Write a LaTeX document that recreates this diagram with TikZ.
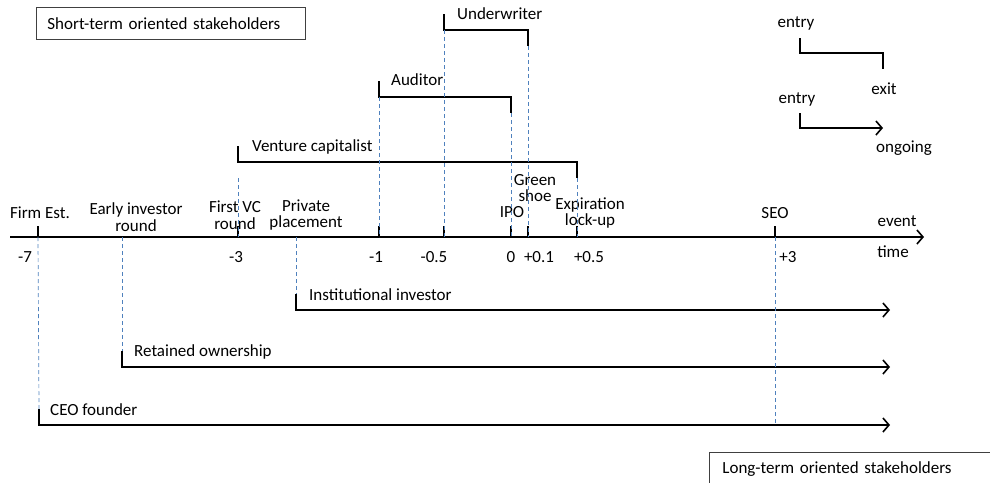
\documentclass[tikz,border=0pt]{standalone}
\usepackage{fontspec}
\setmainfont{Carlito}
\usetikzlibrary{arrows.meta}
\definecolor{guideblue}{RGB}{79,129,189}
\begin{document}
\begin{tikzpicture}[x=1pt, y=-1pt,
		every node/.style={inner sep=0pt, align=center, font=\fontsize{17}{16.5}\selectfont},
		stage/.style={line width=1.6pt},
		ongo/.style={line width=1.6pt, -{Straight Barb[length=6pt, width=14pt, line width=1.6pt]}},
		guide/.style={guideblue, line width=0.7pt, dash pattern=on 4pt off 3pt},
		tickmark/.style={line width=1.4pt},
		groupbox/.style={draw=black!75, line width=0.8pt, anchor=north west, inner xsep=11pt, align=left, minimum height=32pt}]
	\useasboundingbox (0,0) rectangle (990,482);

	\node[groupbox, text width=247pt] (shortbox) at (36,7) {Short-term oriented stakeholders};
	\node[groupbox, text width=268pt, inner xsep=13pt, minimum height=34pt] (longbox) at (709,452) {Long-term oriented stakeholders};

	\foreach \n/\x in {firm/38, early/122, fvc/238, priv/296, aud/379, uw/444, ipo/511, shoe/528, lock/577, seo/775}
		\coordinate (\n) at (\x,237);
	\coordinate (tstart) at (10,237);
	\coordinate (tend) at (924,237);
	\draw[ongo] (tstart) -- (tend);
	\foreach \n in {firm, fvc, aud, uw, ipo, shoe, lock, seo}
		\draw[tickmark] (\n) -- ++(0,-11);

	\node (firmlbl) at (40,213) {Firm Est.};
	\node (earlylbl) at (136,217) {Early investor\\round};
	\node (fvclbl) at (235,215) {First VC\\round};
	\node (privlbl) at (306,215) {Private\\placement};
	\node (ipolbl) at (512,212) {IPO};
	\node (shoelbl) at (535,188) {Green\\shoe};
	\node (locklbl) at (590,213) {Expiration\\lock-up};
	\node (seolbl) at (775,213) {SEO};
	\node (eventlbl) at (897,221) {event};
	\node (timelbl) at (893,252) {time};

	\node (n7) at (25,257) {-7};
	\node (n3) at (236,257) {-3};
	\node (n1) at (376,257) {-1};
	\node (n05) at (434,257) {-0.5};
	\node (n0) at (511,257) {0};
	\node (p01) at (539,257) {+0.1};
	\node (p05) at (589,257) {+0.5};
	\node (p3) at (788,257) {+3};

	\coordinate (vc-in) at (238,162);
	\coordinate (vc-out) at (577,162);
	\coordinate (aud-in) at (379,97);
	\coordinate (aud-out) at (511,97);
	\coordinate (uw-in) at (444,30);
	\coordinate (uw-out) at (528,30);
	\draw[stage] ([yshift=16pt]vc-in) -- (vc-in) -- (vc-out) -- ([yshift=-16pt]vc-out);
	\draw[stage] ([yshift=16pt]aud-in) -- (aud-in) -- (aud-out) -- ([yshift=-16pt]aud-out);
	\draw[stage] ([yshift=16pt]uw-in) -- (uw-in) -- (uw-out) -- ([yshift=-16pt]uw-out);
	\node[anchor=west] (vclbl) at (252,147) {Venture capitalist};
	\node[anchor=west] (audlbl) at (391,80) {Auditor};
	\node[anchor=west] (uwlbl) at (457,14) {Underwriter};
	\draw[guide] ([yshift=-16pt]vc-in) -- (fvc);
	\draw[guide] ([yshift=-16pt]vc-out) -- (lock);
	\draw[guide] (aud-in) -- (aud);
	\draw[guide] ([yshift=-16pt]aud-out) -- (ipo);
	\draw[guide] (uw-in) -- (uw);
	\draw[guide] ([yshift=-16pt]uw-out) -- (shoe);

	\coordinate (inst-in) at (296,310);
	\coordinate (inst-out) at (890,310);
	\coordinate (ret-in) at (122,367);
	\coordinate (ret-out) at (890,367);
	\coordinate (ceo-in) at (39,425);
	\coordinate (ceo-out) at (890,425);
	\draw[ongo] ([yshift=16pt]inst-in) -- (inst-in) -- (inst-out);
	\draw[ongo] ([yshift=16pt]ret-in) -- (ret-in) -- (ret-out);
	\draw[ongo] ([yshift=16pt]ceo-in) -- (ceo-in) -- (ceo-out);
	\node[anchor=west] (instlbl) at (309,295) {Institutional investor};
	\node[anchor=west] (retlbl) at (134,352) {Retained ownership};
	\node[anchor=west] (ceolbl) at (50,410) {CEO founder};
	\draw[guide] (priv) -- ([yshift=16pt]inst-in);
	\draw[guide] (early) -- ([yshift=16pt]ret-in);
	\draw[guide] (firm) -- ([yshift=16pt]ceo-in);
	\draw[guide] (seo) -- (seo |- ceo-in);

	\coordinate (lgA-in) at (800,53);
	\coordinate (lgA-out) at (883,53);
	\coordinate (lgB-in) at (800,128);
	\coordinate (lgB-out) at (883,128);
	\draw[stage] ([yshift=15pt]lgA-in) -- (lgA-in) -- (lgA-out) -- ([yshift=-16pt]lgA-out);
	\draw[ongo] ([yshift=15pt]lgB-in) -- (lgB-in) -- (lgB-out);
	\node (entryA) at (796,23) {entry};
	\node (exitA) at (884,89) {exit};
	\node (entryB) at (797,99) {entry};
	\node (ongoB) at (904,148) {ongoing};
\end{tikzpicture}
\end{document}
